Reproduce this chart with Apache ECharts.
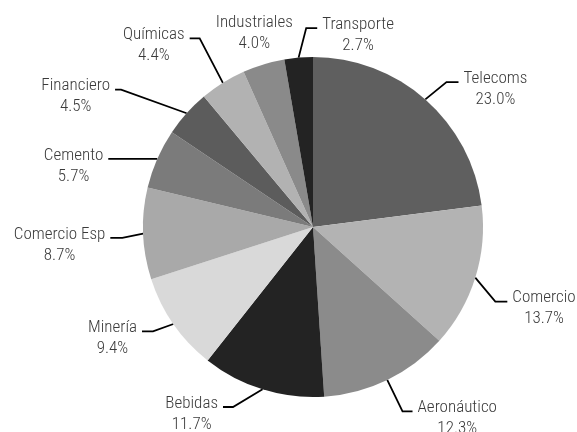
<!DOCTYPE html>
<html><head><meta charset="utf-8">
<script src="https://cdn.jsdelivr.net/npm/echarts@6/dist/echarts.min.js"></script>
<style>html,body{margin:0;padding:0;background:#fff}#c{width:577px;height:432px}</style>
</head><body><div id="c"></div>
<script>
// ---- data ----
const categories = ['Telecoms','Comercio','Aeronáutico','Bebidas','Minería','Comercio Esp','Cemento','Financiero','Químicas','Industriales','Transporte'];
const values = [23.0, 13.7, 12.3, 11.7, 9.4, 8.7, 5.7, 4.5, 4.4, 4.0, 2.7];

// ---- styling / label layout parameters (kept apart from the data) ----
const sliceColors = ['#5f5f5f','#b3b3b3','#8b8b8b','#232323','#d9d9d9','#a9a9a9','#7b7b7b','#5c5c5c','#b2b2b2','#8a8a8a','#232323'];
const elbowRadius = [197, 197, 205, 197, 191, 191, 170, 236, 220, 202, 199];   // radius of the label-line elbow
const elbowTurn   = [1.3, 4.9, 0, 6.7, 1.7, -1, 0, -6.4, 1, 0, 2.9];             // degrees from the slice middle
const lineLen2    = [12, 12, 10, 10, 11, 12, 49, 6, 10, 0, 11];
const labelMode   = ['auto','auto','auto','auto','auto','auto','auto','auto','auto','center','right'];

const CX = 313, CY = 227, R = 170;
const FONT = 'Roboto, "Liberation Sans", sans-serif';
const GAP = 5, LIFT = 7;

const chart = echarts.init(document.getElementById('c'), null, {renderer: 'canvas'});
chart.setOption({
  animation: false,
  backgroundColor: '#ffffff',
  series: [{
    type: 'pie',
    left: -100, top: 0, width: 777, height: 432,
    center: [CX + 100, CY],
    radius: R,
    startAngle: 90,
    clockwise: true,
    avoidLabelOverlap: false,
    itemStyle: {borderWidth: 0},
    label: {
      show: true,
      position: 'outside',
      fontFamily: FONT, fontSize: 17, fontStyle: 'condensed', fontWeight: 300, color: '#3a3a3a',
      formatter: p => '{n|' + p.name + '}\n{n|' + p.value.toFixed(1) + '%}',
      rich: {n: {align: 'center', fontFamily: FONT, fontSize: 17, fontStyle: 'condensed', fontWeight: 300, lineHeight: 21, color: '#3a3a3a'}}
    },
    labelLine: {show: true, length: 25, length2: 10, lineStyle: {color: '#000000', width: 1.8}},
    emphasis: {disabled: true},
    labelLayout: function (p) {
      const pts = p.labelLinePoints;
      if (!pts) return {};
      const i = p.dataIndex;
      const p0 = [pts[0][0], pts[0][1]];
      const mid = Math.atan2(p0[0] - CX, -(p0[1] - CY));
      const a = mid + elbowTurn[i] * Math.PI / 180;
      const p1 = [CX + elbowRadius[i] * Math.sin(a), CY - elbowRadius[i] * Math.cos(a)];
      if (labelMode[i] === 'center') {
        return {x: p1[0], y: p1[1], align: 'center', verticalAlign: 'middle', labelLinePoints: [p0, p0, p0]};
      }
      let side = Math.sin(a) >= 0 ? 1 : -1;
      if (labelMode[i] === 'right') side = 1;
      const p2 = [p1[0] + side * lineLen2[i], p1[1]];
      return {
        x: p2[0] + side * GAP,
        y: p2[1] + LIFT,
        align: side > 0 ? 'left' : 'right',
        verticalAlign: 'middle',
        labelLinePoints: [p0, p1, p2]
      };
    },
    data: categories.map((n, i) => ({
      name: n,
      value: values[i],
      itemStyle: {color: sliceColors[i]},
      labelLine: labelMode[i] === 'center' ? {lineStyle: {opacity: 0}} : {}
    }))
  }]
});
</script>
</body></html>
